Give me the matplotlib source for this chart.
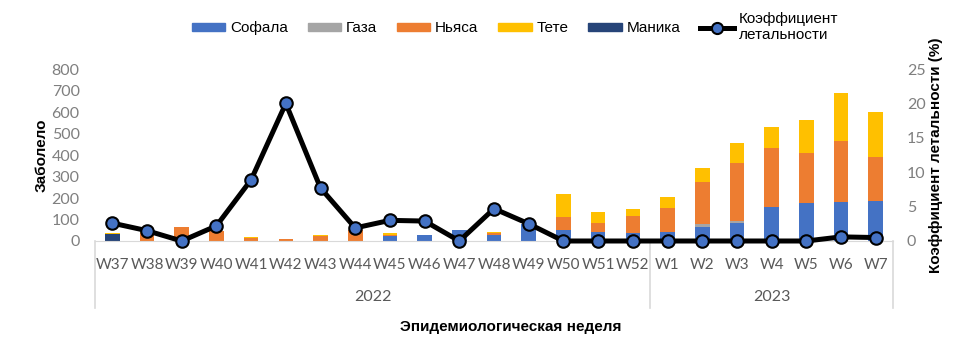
import matplotlib
matplotlib.use('Agg')
import matplotlib.pyplot as plt
from matplotlib.lines import Line2D
from matplotlib.patches import Patch
import numpy as np

plt.rcParams['font.family'] = ['Lato', 'DejaVu Sans']

# Данные
weeks = ['W37', 'W38', 'W39', 'W40', 'W41', 'W42', 'W43', 'W44', 'W45', 'W46',
         'W47', 'W48', 'W49', 'W50', 'W51', 'W52',
         'W1', 'W2', 'W3', 'W4', 'W5', 'W6', 'W7']
years = ['2022', '2023']
n_2022 = 16

sofala = [0, 0, 0, 0, 0, 0, 0, 0, 25, 30, 50, 30, 80, 50, 40, 35,
          40, 65, 83, 160, 175, 180, 185]
gaza = [0, 0, 0, 0, 0, 0, 0, 0, 0, 0, 0, 0, 0, 0, 0, 0,
        0, 15, 10, 0, 0, 0, 0]
nyasa = [0, 35, 65, 48, 15, 10, 25, 52, 3, 0, 0, 7, 0, 60, 45, 82,
         112, 195, 270, 272, 235, 285, 205]
tete = [5, 5, 0, 0, 5, 0, 5, 0, 7, 0, 0, 5, 0, 108, 48, 32,
        52, 65, 93, 100, 153, 225, 210]
manica = [32, 0, 0, 0, 0, 0, 0, 0, 0, 0, 0, 0, 0, 0, 0, 0,
          0, 0, 0, 0, 0, 0, 0]
letal = [2.6, 1.5, 0, 2.2, 8.9, 20, 7.7, 1.9, 3.0, 2.9, 0, 4.7, 2.5,
         0, 0, 0, 0, 0, 0, 0, 0, 0.6, 0.5]

c_sofala = '#4472C4'
c_gaza = '#A5A5A5'
c_nyasa = '#ED7D31'
c_tete = '#FFC000'
c_manica = '#264478'
gray_txt = '#7F7F7F'

fig = plt.figure(figsize=(9.75, 3.59), dpi=100)
ax = fig.add_axes([0.0974, 0.3287, 0.8186, 0.479])
x = np.arange(len(weeks))
w = 0.42

bottom = np.zeros(len(weeks))
for vals, col in [(sofala, c_sofala), (gaza, c_gaza), (nyasa, c_nyasa),
                  (manica, c_manica), (tete, c_tete)]:
    ax.bar(x, vals, w, bottom=bottom, color=col, zorder=2)
    bottom += np.array(vals)

ax.set_ylim(0, 800)
ax.set_yticks(np.arange(0, 801, 100))
ax.set_xlim(-0.5, len(weeks) - 0.5)
ax.set_xticks(x)
ax.set_xticklabels(weeks, fontsize=11, color='#595959')
ax.tick_params(axis='x', length=0, pad=12)
ax.tick_params(axis='y', length=0, labelsize=11.5, labelcolor=gray_txt, pad=11)
for s in ['top', 'right', 'left']:
    ax.spines[s].set_visible(False)
ax.spines['bottom'].set_color('#D9D9D9')
ax.set_ylabel('Заболело', fontsize=11, fontweight='bold',
              family=['Liberation Sans', 'DejaVu Sans'], labelpad=2)

ax2 = ax.twinx()
ax2.plot(x, letal, '-o', color='black', lw=3.6, ms=9,
         mfc=c_sofala, mec='black', mew=1.5, zorder=5, clip_on=False)
ax2.set_ylim(0, 25)
ax2.set_yticks(np.arange(0, 26, 5))
ax2.tick_params(axis='y', length=0, labelsize=11.5, labelcolor=gray_txt, pad=10)
for s in ['top', 'right', 'left', 'bottom']:
    ax2.spines[s].set_visible(False)
ax2.set_ylabel('Коэффициент летальности (%)', fontsize=11, fontweight='bold',
               family=['Liberation Sans', 'DejaVu Sans'], labelpad=2)

# Двухуровневая ось категорий
tr = ax.get_xaxis_transform()
for b in [-0.5, n_2022 - 0.5, len(weeks) - 0.5]:
    ax.plot([b, b], [0, -0.39], color='#D9D9D9', lw=1.2, transform=tr, clip_on=False)
ax.text((n_2022 - 1) / 2, -0.325, years[0], transform=tr, ha='center', va='center',
        fontsize=11.5, color='#595959')
ax.text((n_2022 + len(weeks) - 1) / 2, -0.325, years[1], transform=tr, ha='center',
        va='center', fontsize=11.5, color='#595959')

fig.text(0.524, 0.088, 'Эпидемиологическая неделя', ha='center', va='center',
         fontsize=11, fontweight='bold', family=['Liberation Sans', 'DejaVu Sans'])

handles = [Patch(color=c_sofala), Patch(color=c_gaza), Patch(color=c_nyasa),
           Patch(color=c_tete), Patch(color=c_manica),
           Line2D([], [], color='black', lw=3.6, marker='o', ms=8,
                  mfc=c_sofala, mec='black', mew=1.5)]
labels = ['Софала', 'Газа', 'Ньяса', 'Тете', 'Маника', 'Коэффициент\nлетальности']
fig.legend(handles, labels, loc='center', bbox_to_anchor=(0.528, 0.925), ncol=6,
           frameon=False, handlelength=2.2, handleheight=0.45, handletextpad=0.3,
           columnspacing=1.3, labelspacing=0.1,
           prop={'family': ['Liberation Sans', 'DejaVu Sans'], 'size': 11})

fig.savefig('out.png', dpi=100)
